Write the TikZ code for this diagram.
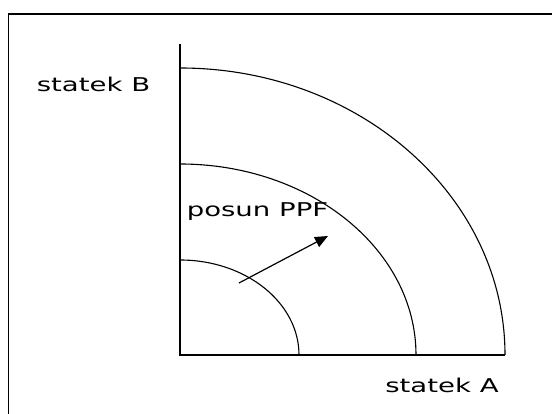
\documentclass[tikz,border=0pt]{standalone}
\usepackage{fontspec}
\setmainfont{DejaVu Sans}
\usetikzlibrary{arrows.meta}
\begin{document}
\begin{tikzpicture}[x=1pt,y=1pt,
  lbl/.style={inner sep=0pt,anchor=base,font=\fontsize{19}{19}\selectfont},
  axis/.style={line width=1.4pt},
  ppf/.style={line width=1.1pt},
  shiftarrow/.style={-{Triangle[length=13pt,width=11pt]},line width=1.2pt}]
 \useasboundingbox (0,0) rectangle (552,414);
 % frame, only left and top edges inside the page
 \begin{scope}
  \clip (0,0) rectangle (552,414);
  \draw[line width=1.3pt] (8.5,-10) |- (560,400);
 \end{scope}
 \coordinate (O) at (180,59);
 \coordinate (ytop) at (180,370);
 \coordinate (xend) at (505,59);
 \draw[axis] (ytop) -- (O) -- (xend);
 \foreach \rx/\ry in {119/95,236/191,325/287}
  \draw[ppf] (O) ++(0,\ry) arc[start angle=90,end angle=0,x radius=\rx,y radius=\ry];
 \coordinate (s0) at (239,131);
 \coordinate (s1) at (328,178);
 \draw[shiftarrow] (s0) -- (s1);
 \node[lbl] (sB) at (93.5,322) {\scalebox{1.45}[1]{statek B}};
 \node[lbl] (sA) at (442,21) {\scalebox{1.45}[1]{statek A}};
 \node[lbl] (pp) at (257.5,197) {\scalebox{1.45}[1]{posun PPF}};
\end{tikzpicture}
\end{document}
